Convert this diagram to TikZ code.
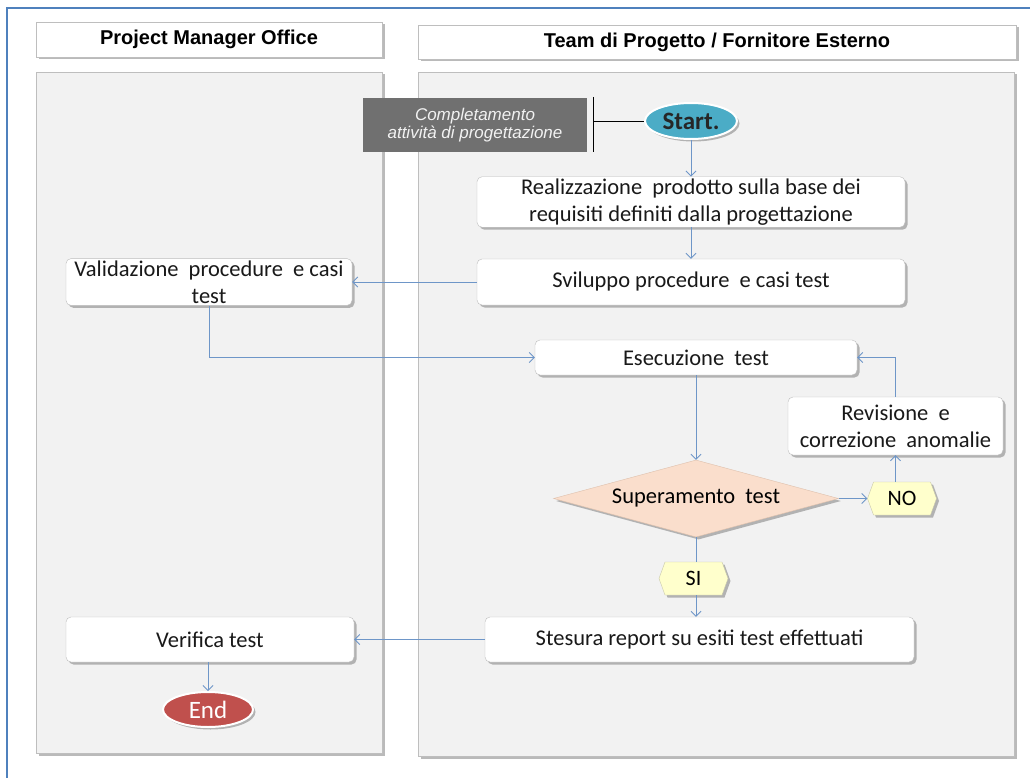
\documentclass[tikz,border=0pt]{standalone}
\usepackage{fontspec}
\setmainfont{Carlito}
\newfontfamily\arialf{Liberation Sans}
\usetikzlibrary{shapes.geometric,shapes.symbols,shadows,arrows.meta}
\definecolor{frameblue}{RGB}{79,129,189}
\definecolor{arrowblue}{RGB}{110,150,200}
\definecolor{lanefill}{RGB}{242,242,242}
\definecolor{laneborder}{RGB}{190,190,190}
\definecolor{complgray}{RGB}{112,112,112}
\definecolor{startteal}{RGB}{75,172,198}
\definecolor{endred}{RGB}{192,80,77}
\definecolor{peach}{RGB}{250,222,204}
\definecolor{peachborder}{RGB}{222,192,172}
\definecolor{lightyellow}{RGB}{255,255,204}
\definecolor{yellowborder}{RGB}{200,200,170}
\tikzset{
  shad/.style={drop shadow={shadow xshift=2.5pt,shadow yshift=-2.5pt,opacity=0.45,fill=black!60}},
  header/.style={draw=laneborder,fill=white,shad,inner sep=0pt,font=\arialf\bfseries\fontsize{20}{23}\selectfont},
  lane/.style={draw=laneborder,fill=lanefill,shad,inner sep=0pt},
  procbox/.style={draw=laneborder,fill=white,rounded corners=5pt,shad,inner sep=2pt,align=center,text=black!90,font=\fontsize{22.5}{27}\selectfont},
  flow/.style={draw=arrowblue,line width=0.8pt},
  flowarr/.style={flow,-{Straight Barb[length=5pt,width=10pt,line width=0.8pt]}},
  hexa/.style={signal,signal to=east and west,signal pointer angle=140,draw=yellowborder,fill=lightyellow,shad,inner sep=0pt,font=\fontsize{22}{26}\selectfont},
  terminal/.style={ellipse,draw=white,line width=2pt,shad,inner sep=0pt}
}
\begin{document}
\begin{tikzpicture}[x=1pt,y=-1pt]
\useasboundingbox (0,0) rectangle (1030,778);
% outer frame
\coordinate (ftr) at (1030,8);
\coordinate (ftl) at (7,8);
\coordinate (fbl) at (7,778);
\draw[frameblue,line width=1.5pt] (ftr) -- (ftl) -- (fbl);
% headers and lanes
\node[header,minimum width=346pt,minimum height=35pt] (hpmo) at (209,39.5) {Project Manager Office};
\node[header,minimum width=598pt,minimum height=34pt] (hteam) at (717,42) {Team di Progetto / Fornitore Esterno};
\node[lane,minimum width=346pt,minimum height=681pt] (lane1) at (209,412.5) {};
\node[lane,minimum width=596pt,minimum height=684pt] (lane2) at (716,414) {};
% completamento box
\node[fill=complgray,minimum width=224pt,minimum height=54pt,inner sep=0pt,align=center,text=lanefill,font=\arialf\itshape\fontsize{17}{17.5}\selectfont] (compl) at (475,125) {Completamento\\attività di progettazione};
\coordinate (bartop) at (593,97);
\coordinate (barbot) at (593,152);
\coordinate (barmid) at (593,121);
\draw[black,line width=0.8pt] (bartop) -- (barbot);
% start
\node[terminal,fill=startteal,minimum width=92pt,minimum height=36pt,font=\bfseries\fontsize{25}{28}\selectfont,text=black!85] (start) at (691,121) {Start.};
\draw[black,line width=0.8pt] (barmid) -- (start.west);
% process boxes
\node[procbox,minimum width=428pt,minimum height=48pt] (real) at (691,202) {Realizzazione\ \ prodotto sulla base dei\\requisiti definiti dalla progettazione};
\node[procbox,minimum width=428pt,minimum height=46pt] (svil) at (691,282) {Sviluppo procedure\ \ e casi test};
\node[procbox,minimum width=286pt,minimum height=46pt] (valid) at (209,282) {Validazione\ \ procedure\ \ e casi\\test};
\node[procbox,minimum width=322pt,minimum height=35pt] (esec) at (696,357.5) {Esecuzione\ \ test};
\node[diamond,draw=peachborder,fill=peach,shad,aspect=3.7,inner sep=0pt,minimum width=285pt,minimum height=77pt,font=\fontsize{22.5}{26}\selectfont] (dia) at (696,498.5) {Superamento\ \ test};
\node[hexa,minimum width=69pt,minimum height=33pt] (no) at (902,498.5) {NO};
\node[procbox,minimum width=215pt,minimum height=58pt] (revis) at (895.5,426) {Revisione\ \ e\\correzione\ \ anomalie};
\node[hexa,minimum width=69pt,minimum height=33pt] (si) at (693.5,578.5) {SI};
\node[procbox,minimum width=429pt,minimum height=45pt] (stes) at (699.5,639.5) {Stesura report su esiti test effettuati};
\node[procbox,minimum width=288pt,minimum height=45pt] (verif) at (210,639.5) {Verifica test};
\node[terminal,fill=endred,minimum width=90pt,minimum height=35pt,text=white,font=\fontsize{25}{28}\selectfont] (end) at (208,709.5) {End};
% connectors
\draw[flowarr] (start) -- (real);
\draw[flowarr] (real) -- (svil);
\draw[flowarr] (svil.west) -- (valid.east);
\draw[flowarr] (valid.south) |- (esec.west);
\draw[flowarr] (esec.south) -- (dia.north);
\draw[flowarr] (dia.east) -- (no.west);
\draw[flowarr] (revis.south |- no.north) -- (revis.south);
\draw[flowarr] (revis.north) |- (esec.east);
\draw[flow] (dia.south) -- (si.north -| dia.south);
\draw[flowarr] (si.south -| dia.south) -- (stes.north -| dia.south);
\draw[flowarr] (stes.west) -- (verif.east);
\draw[flowarr] (end.north |- verif.south) -- (end.north);
\end{tikzpicture}
\end{document}
